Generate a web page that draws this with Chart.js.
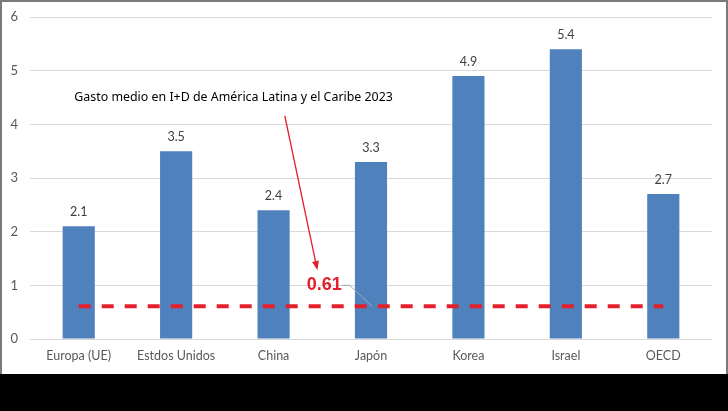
<!DOCTYPE html>
<html><head><meta charset="utf-8">
<script src="https://cdn.jsdelivr.net/npm/chart.js@4"></script>
<style>
html,body{margin:0;padding:0;background:#000;width:728px;height:411px;overflow:hidden}
#wrap{position:absolute;left:0;top:0;width:724px;height:372px;border:2px solid #7a7a7a;border-bottom:none;background:#fff}
canvas{display:block}
</style></head><body>
<div id="wrap"><canvas id="c" width="724" height="372"></canvas></div>
<script>
const categories = ["Europa (UE)", "Estdos Unidos", "China", "Japón", "Korea", "Israel", "OECD"];
const gastoID = [2.1, 3.5, 2.4, 3.3, 4.9, 5.4, 2.7];
const promedioALC = 0.61;
const promedioLine = categories.map(() => promedioALC);
const yTicks = [0, 1, 2, 3, 4, 5, 6];
const noteText = "Gasto medio en I+D de América Latina y el Caribe 2023";

const BLUE = "#4f81bd";
const RED = "#e3202b";
const FONT = "Lato, 'Liberation Sans', sans-serif";

const annotPlugin = {
  id: "annot",
  afterDatasetsDraw(chart) {
    const ctx = chart.ctx;
    const xs = chart.scales.x, ys = chart.scales.y;
    // data labels
    ctx.save();
    ctx.font = "12.5px " + FONT;
    ctx.fillStyle = "#404040";
    ctx.textAlign = "center";
    ctx.textBaseline = "bottom";
    const meta = chart.getDatasetMeta(0);
    meta.data.forEach((bar, i) => {
      ctx.fillText(gastoID[i].toFixed(1), bar.x, bar.y - 8);
    });
    ctx.restore();

    // note text
    ctx.save();
    ctx.font = "12.4px 'Noto Sans', sans-serif";
    ctx.fillStyle = "#000";
    ctx.textAlign = "left";
    ctx.textBaseline = "middle";
    ctx.fillText(noteText, xs.getPixelForValue(-0.045), ys.getPixelForValue(4.5));
    ctx.restore();

    // red arrow
    const x1 = xs.getPixelForValue(2.115), y1 = ys.getPixelForValue(4.16);
    const x2 = xs.getPixelForValue(2.445), y2 = ys.getPixelForValue(1.32);
    ctx.save();
    ctx.strokeStyle = RED; ctx.fillStyle = RED; ctx.lineWidth = 1.3;
    ctx.beginPath(); ctx.moveTo(x1, y1); ctx.lineTo(x2, y2); ctx.stroke();
    const ang = Math.atan2(y2 - y1, x2 - x1);
    const L = 7, W = 3.5;
    ctx.beginPath();
    ctx.moveTo(x2 + Math.cos(ang) * 2, y2 + Math.sin(ang) * 2);
    ctx.lineTo(x2 - Math.cos(ang) * L + Math.sin(ang) * W, y2 - Math.sin(ang) * L - Math.cos(ang) * W);
    ctx.lineTo(x2 - Math.cos(ang) * L - Math.sin(ang) * W, y2 - Math.sin(ang) * L + Math.cos(ang) * W);
    ctx.closePath(); ctx.fill();
    ctx.restore();

    // 0.61 label
    ctx.save();
    ctx.font = "bold 18px 'Liberation Sans', sans-serif";
    ctx.fillStyle = RED;
    ctx.textAlign = "center";
    ctx.textBaseline = "middle";
    ctx.fillText(promedioALC.toFixed(2), xs.getPixelForValue(2.52), ys.getPixelForValue(1.0));
    ctx.restore();

    // gray leader
    ctx.save();
    ctx.strokeStyle = "#a6a6a6"; ctx.lineWidth = 1;
    ctx.beginPath();
    ctx.moveTo(xs.getPixelForValue(2.7), ys.getPixelForValue(1.0));
    ctx.lineTo(xs.getPixelForValue(2.78), ys.getPixelForValue(1.0));
    ctx.lineTo(xs.getPixelForValue(3.01), ys.getPixelForValue(0.615));
    ctx.stroke();
    ctx.restore();
  }
};

new Chart(document.getElementById("c"), {
  data: {
    labels: categories,
    datasets: [
      { type: "bar", data: gastoID, backgroundColor: BLUE, borderWidth: 0,
        categoryPercentage: 1.0, barPercentage: 0.33, order: 2 },
      { type: "line", data: promedioLine, borderColor: RED, borderWidth: 4,
        borderDash: [12, 11], borderCapStyle: "butt", pointRadius: 0, fill: false,
        tension: 0, order: 1 }
    ]
  },
  options: {
    responsive: false,
    animation: false,
    events: [],
    layout: { padding: { left: 0, right: 14, top: 15, bottom: 0 } },
    plugins: { legend: { display: false }, tooltip: { enabled: false }, title: { display: false } },
    scales: {
      x: {
        grid: { display: false, drawTicks: false },
        border: { display: false },
        ticks: { color: "#595959", font: { family: FONT, size: 12.5 }, padding: 9, maxRotation: 0, autoSkip: false },
        afterFit(s) { s.height = 35; s.paddingLeft = 0; s.paddingRight = 0; }
      },
      y: {
        min: 0, max: 6,
        afterBuildTicks(s) { s.ticks = yTicks.map(v => ({ value: v })); },
        grid: { color: "#d9d9d9", lineWidth: 1, drawTicks: false },
        border: { display: false },
        ticks: { color: "#595959", font: { family: FONT, size: 13 }, padding: 12 },
        afterFit(s) { s.width = 28; s.paddingTop = 0; s.paddingBottom = 0; }
      }
    }
  },
  plugins: [annotPlugin]
});
</script>
</body></html>
